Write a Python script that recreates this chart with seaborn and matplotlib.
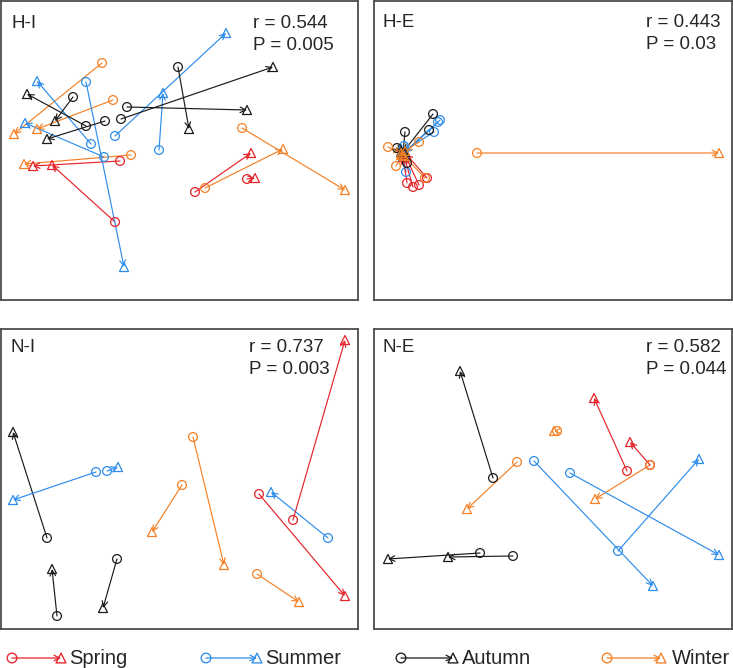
import numpy as np
import pandas as pd
import matplotlib
matplotlib.use("Agg")
import matplotlib.pyplot as plt
import seaborn as sns

# ── Procrustes residuals (panel units, y up) ──────────────────────────────────
SEASONS = ["Spring", "Summer", "Autumn", "Winter"]
PALETTE = {"Spring": "#E6232A", "Summer": "#2E8DEB",
           "Autumn": "#1A1A1A", "Winter": "#F58025"}

# H-I
HI_SEASON = ["Winter"] * 5 + ["Spring"] * 4 + ["Summer"] * 5 + ["Autumn"] * 6
HI_X0 = [101, 112, 130, 241, 204, 119, 114, 194, 246, 85, 90, 103, 114, 158,
         72, 85, 104, 126, 120, 177]
HI_Y0 = [237, 200, 145, 172, 112, 139, 78, 108, 121, 218, 156, 143, 164, 150,
         203, 174, 179, 193, 181, 233]
HI_X1 = [13, 36, 23, 344, 282, 32, 51, 250, 254, 123, 36, 24, 225, 162,
         54, 26, 46, 246, 272, 188]
HI_Y1 = [166, 171, 136, 110, 151, 134, 135, 147, 122, 33, 219, 177, 267, 207,
         179, 206, 161, 190, 233, 171]

# H-E
HE_SEASON = ["Autumn"] * 5 + ["Summer"] * 5 + ["Winter"] * 5 + ["Spring"] * 4
HE_X0 = [59, 31, 55, 23, 33, 66, 64, 60, 32, 30, 14, 22, 45, 51, 103,
         33, 39, 45, 53]
HE_Y0 = [186, 168, 170, 152, 137, 180, 178, 168, 128, 154, 153, 134, 158, 122, 147,
         117, 113, 115, 122]
HE_X1 = [30, 29, 31, 27, 29, 31, 30, 30, 29, 28, 27, 28, 31, 30, 345,
         29, 30, 31, 32]
HE_Y1 = [149, 147, 148, 148, 145, 148, 147, 149, 144, 148, 147, 145, 149, 144, 147,
         143, 144, 145, 146]

# N-I
NI_SEASON = ["Autumn"] * 3 + ["Summer"] * 3 + ["Spring"] * 2 + ["Winter"] * 3
NI_X0 = [46, 116, 56, 95, 106, 327, 292, 258, 192, 181, 256]
NI_Y0 = [91, 70, 13, 157, 158, 91, 109, 135, 192, 144, 55]
NI_X1 = [12, 102, 51, 12, 117, 270, 344, 344, 223, 151, 298]
NI_Y1 = [197, 21, 60, 129, 162, 137, 289, 33, 64, 97, 27]

# N-E
NE_SEASON = ["Autumn"] * 3 + ["Winter"] * 3 + ["Spring"] * 2 + ["Summer"] * 3
NE_X0 = [119, 106, 139, 143, 183, 276, 253, 276, 160, 196, 244]
NE_Y0 = [151, 76, 73, 167, 198, 164, 158, 164, 168, 156, 78]
NE_X1 = [86, 14, 74, 93, 180, 221, 220, 256, 279, 345, 325]
NE_Y1 = [258, 70, 72, 120, 198, 130, 231, 187, 43, 74, 170]

PANELS = [
    ("H-I", "0.544", "0.005", HI_SEASON, HI_X0, HI_Y0, HI_X1, HI_Y1),
    ("H-E", "0.443", "0.03", HE_SEASON, HE_X0, HE_Y0, HE_X1, HE_Y1),
    ("N-I", "0.737", "0.003", NI_SEASON, NI_X0, NI_Y0, NI_X1, NI_Y1),
    ("N-E", "0.582", "0.044", NE_SEASON, NE_X0, NE_Y0, NE_X1, NE_Y1),
]

# ── Layout (pixels of a 733 x 668 canvas) ─────────────────────────────────────
W, H = 733, 668
RECTS = [(1, 1, 357, 299), (374, 1, 358, 299),
         (1, 329, 357, 300), (374, 329, 358, 300)]       # left, top, w, h
LABEL_POS = [(10.7, 27), (8.7, 26), (10, 23), (8.7, 23)]  # x, baseline from top
STAT_POS = [(252, 27, 49), (272, 26, 48), (248, 23, 45), (272, 23, 45)]

sns.set_theme(style="white")
plt.rcParams["font.family"] = ["Liberation Sans", "DejaVu Sans"]

fig = plt.figure(figsize=(W / 100, H / 100), dpi=100)


def draw_panel(rect, panel, lab_pos, stat_pos):
    name, r, p, season, x0, y0, x1, y1 = panel
    left, top, w, h = rect
    ax = fig.add_axes([left / W, (H - top - h) / H, w / W, h / H])
    df = pd.DataFrame({"season": season, "x0": x0, "y0": y0, "x1": x1, "y1": y1})

    for _, row in df.iterrows():
        ax.annotate("", xy=(row.x1, row.y1), xytext=(row.x0, row.y0),
                    arrowprops=dict(arrowstyle="->", color=PALETTE[row.season],
                                    lw=0.85, shrinkA=0, shrinkB=0,
                                    mutation_scale=10))
    for s in SEASONS:
        sub = df[df["season"] == s]
        if sub.empty:
            continue
        c = PALETTE[s]
        sns.scatterplot(data=sub, x="x0", y="y0", ax=ax, marker="o", s=40,
                        color=c, facecolor="none", edgecolor=c,
                        linewidth=0.9, legend=False, zorder=3)
        sns.scatterplot(data=sub, x="x1", y="y1", ax=ax, marker="^", s=42,
                        color=c, facecolor="none", edgecolor=c,
                        linewidth=0.9, legend=False, zorder=3)

    ax.set_xlim(0, w); ax.set_ylim(0, h)
    ax.set_xticks([]); ax.set_yticks([])
    ax.set_xlabel(""); ax.set_ylabel("")
    for sp in ax.spines.values():
        sp.set_color("#4d4d4d"); sp.set_linewidth(1.3)

    ax.text(lab_pos[0] / w, 1 - lab_pos[1] / h, name, transform=ax.transAxes,
            fontsize=13.5, va="baseline", ha="left")
    ax.text(stat_pos[0] / w, 1 - stat_pos[1] / h, f"r = {r}",
            transform=ax.transAxes, fontsize=13.5, va="baseline", ha="left")
    ax.text(stat_pos[0] / w, 1 - stat_pos[2] / h, f"P = {p}",
            transform=ax.transAxes, fontsize=13.5, va="baseline", ha="left")


for rect, panel, lp, sp in zip(RECTS, PANELS, LABEL_POS, STAT_POS):
    draw_panel(rect, panel, lp, sp)

# ── Legend strip ──────────────────────────────────────────────────────────────
leg = fig.add_axes([0, 0, 1, 30 / H])
leg.set_xlim(0, W); leg.set_ylim(0, 30); leg.axis("off")
LEG_X = [(12, 61, 69), (206, 257, 265), (401, 453, 462), (607, 661, 672)]
for s, (xc, xt, xl) in zip(SEASONS, LEG_X):
    c = PALETTE[s]
    leg.annotate("", xy=(xt, 10), xytext=(xc, 10),
                 arrowprops=dict(arrowstyle="->", color=c, lw=0.9,
                                 shrinkA=0, shrinkB=0, mutation_scale=10))
    leg.scatter([xc], [10], marker="o", s=48, facecolor="none", edgecolor=c,
                linewidth=0.95, zorder=3)
    leg.scatter([xt], [10], marker="^", s=50, facecolor="none", edgecolor=c,
                linewidth=0.95, zorder=3)
    leg.text(xl, 10, s, fontsize=14.5, va="center", ha="left")

fig.savefig("out.png", dpi=100)
